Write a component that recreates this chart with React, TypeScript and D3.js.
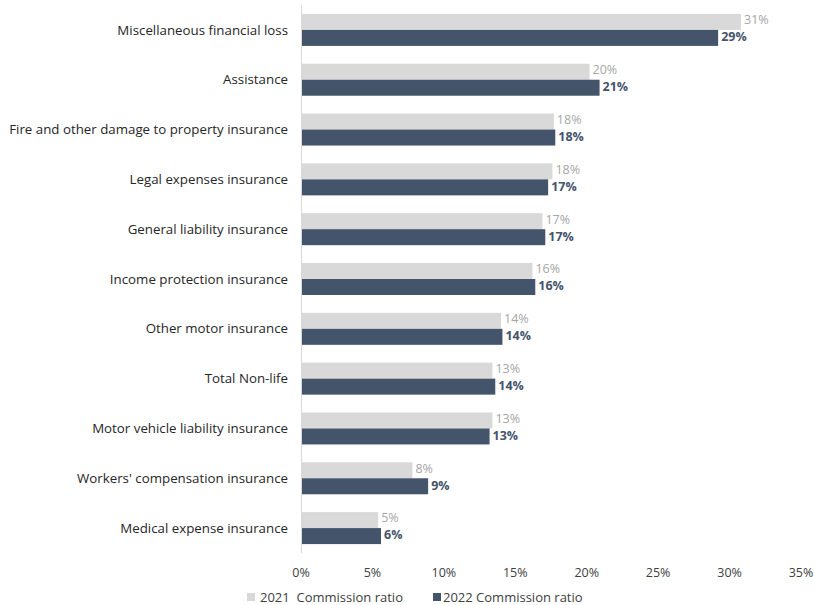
import React from "react";
import * as d3 from "d3";

const categories = [
  "Miscellaneous financial loss",
  "Assistance",
  "Fire and other damage to property insurance",
  "Legal expenses insurance",
  "General liability insurance",
  "Income protection insurance",
  "Other motor insurance",
  "Total Non-life",
  "Motor vehicle liability insurance",
  "Workers' compensation insurance",
  "Medical expense insurance",
];
const values2021 = [30.8, 20.2, 17.7, 17.6, 16.9, 16.2, 14.0, 13.4, 13.4, 7.8, 5.4];
const values2022 = [29.2, 20.9, 17.8, 17.3, 17.1, 16.4, 14.1, 13.6, 13.2, 8.9, 5.6];
const ticks = [0, 5, 10, 15, 20, 25, 30, 35];
const seriesNames = ["2021  Commission ratio", "2022 Commission ratio"];

const W = 814;
const H = 605;
const C2021 = "#d9d9d9";
const C2022 = "#44546a";
const FONT = "'Open Sans', 'Noto Sans', sans-serif";

export default function App() {
  const x = d3.scaleLinear().domain([0, 35]).range([301, 801]);
  const y = d3.scaleBand().domain(categories).range([5, 553]);
  const sub = d3.scaleBand().domain(["a", "b"]).range([0, 32]);
  const bw = sub.bandwidth();
  return (
    <svg width={W} height={H} style={{ position: "absolute", left: 0, top: 0, background: "#fff" }} fontFamily={FONT}>
      {categories.map((c, i) => {
        const cy = y(c)! + y.bandwidth() / 2;
        const top = cy - 16;
        return (
          <g key={c}>
            <text x={288} y={cy} dy="0.35em" textAnchor="end" fontSize={13.3} fill="#262626">{c}</text>
            <rect x={x(0)} y={top + sub("a")!} width={x(values2021[i]) - x(0)} height={bw} fill={C2021} />
            <rect x={x(0)} y={top + sub("b")!} width={x(values2022[i]) - x(0)} height={bw} fill={C2022} />
            <text x={x(values2021[i]) + 3} y={top + sub("a")! + bw / 2 - 2} dy="0.35em" fontSize={12.5} fill="#a6a6a6">{d3.format(".0f")(values2021[i])}%</text>
            <text x={x(values2022[i]) + 3} y={top + sub("b")! + bw / 2 - 1} dy="0.35em" fontSize={12.5} fontWeight="bold" fill={C2022}>{d3.format(".0f")(values2022[i])}%</text>
          </g>
        );
      })}
      <line x1={x(0) + 0.5} x2={x(0) + 0.5} y1={5} y2={553} stroke="#d9d9d9" strokeWidth={1} />
      {ticks.map((t) => (
        <text key={t} x={x(t)} y={573} dy="0.35em" textAnchor="middle" fontSize={12.5} fill="#404040">{t}%</text>
      ))}
      <rect x={247} y={593} width={8} height={8} fill={C2021} />
      <text x={260} y={597} dy="0.35em" fontSize={13} fill="#404040" style={{ whiteSpace: "pre" }}>{seriesNames[0]}</text>
      <rect x={433} y={593} width={8} height={8} fill={C2022} />
      <text x={443} y={597} dy="0.35em" fontSize={13} fill="#404040">{seriesNames[1]}</text>
    </svg>
  );
}
